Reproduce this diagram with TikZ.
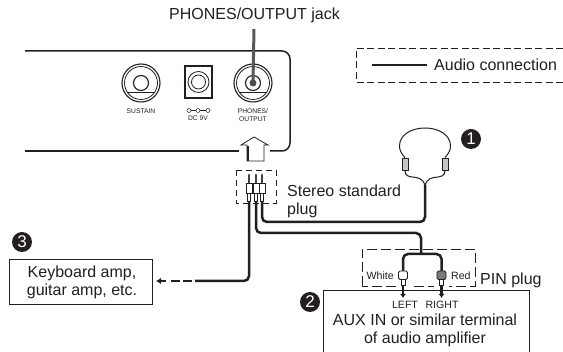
\documentclass[tikz,border=0pt]{standalone}
\usepackage{fontspec}
\setmainfont{Liberation Sans}
\usetikzlibrary{arrows.meta}
\definecolor{ink}{HTML}{231F20}
\tikzset{
 x=1pt,y=-1pt,
 panel/.style={draw=ink,line width=1.5pt},
 jackring/.style={draw=ink,line width=1.1pt},
 thin jack/.style={draw=ink,line width=.8pt},
 label12/.style={inner sep=0pt,font=\fontsize{16}{18}\selectfont,text=ink,align=center},
 tiny5/.style={inner sep=0pt,font=\fontsize{6.7}{7.4}\selectfont,text=ink,align=center},
 small8/.style={inner sep=0pt,font=\fontsize{10.6}{12}\selectfont,text=ink,align=center},
 dashbox/.style={draw=ink,line width=.9pt,dash pattern=on 7pt off 3.5pt},
 cable/.style={draw=ink,line width=2.5pt,rounded corners=5pt},
 thincable/.style={draw=ink,line width=1pt},
 badge/.style={circle,fill=ink,text=white,inner sep=0pt,minimum size=20pt,font=\fontsize{17}{17}\selectfont},
 ampbox/.style={draw=ink,line width=.9pt,fill=white,inner sep=0pt},
}
\begin{document}
\begin{tikzpicture}
\useasboundingbox[fill=white] (0,0) rectangle (563,352);
% panel
\coordinate (pnlTL) at (25,51);
\coordinate (pnlTR) at (290,51);
\coordinate (pnlBR) at (290,151);
\coordinate (pnlBL) at (25,151);
\coordinate (pnlGap) at (239,151);
\coordinate (pnlGapR) at (270,151);
\draw[panel,rounded corners=8pt] (pnlTL) -- (pnlTR) -- (pnlBR) -- (pnlGapR);
\draw[panel] (pnlBL) -- (pnlGap);
% jacks
\node[circle,jackring,minimum size=38pt,inner sep=0pt] (sus) at (141,83) {};
\node[circle,thin jack,minimum size=33pt,inner sep=0pt] at (sus) {};
\node[circle,jackring,minimum size=15pt,inner sep=0pt] at (sus) {};
\draw[thin jack] (127,92) -- (155,92);
\node[draw=ink,line width=1.4pt,minimum width=27pt,minimum height=32pt,inner sep=0pt] (dc) at (198.5,82) {};
\node[circle,thin jack,minimum size=21pt,inner sep=0pt] at (dc) {};
\node[circle,thin jack,minimum size=14pt,inner sep=0pt] at (dc) {};
\node[circle,jackring,minimum size=38pt,inner sep=0pt] (pho) at (253,83) {};
\node[circle,thin jack,minimum size=33pt,inner sep=0pt] at (pho) {};
\node[circle,draw=ink,line width=1.1pt,minimum size=15pt,inner sep=0pt] (phoin) at (pho) {};
\draw[thin jack] (239,92) -- (267,92);
\coordinate (jackTop) at (254,29);
\draw[draw=ink!75,line width=3pt] (jackTop) -- (phoin.center);
\fill[ink!80] (phoin.center) circle (3.5pt);
\node[tiny5] (susT) at (141,111) {SUSTAIN};
\node[tiny5] (dcT) at (198,118.5) {DC 9V};
\node[tiny5] (phT) at (253,115) {PHONES/\\OUTPUT};
\draw[ink,line width=.5pt] (189,110.5) -- (208,110.5);
\foreach \xx in {189,198,208}{\draw[ink,line width=.5pt,fill=white] (\xx,110.5) circle (2pt);}
\node[label12,anchor=west] (jackT) at (169,15) {PHONES/OUTPUT jack};
% house arrow
\draw[ink,line width=.8pt,fill=white] (247,161) -- (247,145) -- (241,145) -- (254,137) -- (268,145) -- (264,145) -- (264,161) -- cycle;
\draw[ink,line width=2pt] (248,146) -- (248,161);
% stereo plug
\draw[dashbox,dash pattern=on 6pt off 4pt] (236,170) rectangle (276,203);
\foreach \xx/\nm in {249/a,256/b,262/c}{
 \draw[ink!85,line width=2.6pt,line cap=round] (\xx,175) -- (\xx,183);
 \draw[ink,line width=.8pt,fill=white] (\xx-3,183) rectangle (\xx+3,193);
 \draw[ink,line width=.8pt,fill=white] (\xx-1.6,193) rectangle (\xx+1.6,201);
 \coordinate (plug\nm) at (\xx,201);
}
\node[label12,anchor=west,align=left] (stT) at (287,201) {Stereo standard\\plug};
% legend
\draw[dashbox] (563,48) -- (356,48) -- (356,82) -- (563,82);
\coordinate (legA) at (372,65);
\coordinate (legB) at (427,65);
\draw[ink,line width=1.5pt] (legA) -- (legB);
\node[label12,anchor=west] (legT) at (434,65) {Audio connection};
% headphones
\node[draw=ink,line width=.7pt,fill=ink!25,minimum width=6pt,minimum height=12pt,inner sep=0pt] (earL) at (405,164) {};
\node[draw=ink,line width=.7pt,fill=ink!25,minimum width=6pt,minimum height=12pt,inner sep=0pt] (earR) at (445,164) {};
\draw[thincable] (earL.north) .. controls (401,153) and (399.5,150) .. (399.5,146) .. controls (399.5,135) and (411,128) .. (425,128) .. controls (439,128) and (450.5,135) .. (450.5,146) .. controls (450.5,150) and (449,153) .. (earR.north);
\coordinate (hpJ) at (425,185);
\draw[thincable] (earL.south) .. controls (405,182) and (421,172) .. (hpJ);
\draw[thincable] (earR.south) .. controls (445,182) and (429,172) .. (hpJ);
\node[badge] (n1) at (471,139) {1};
% amp 3
\node[ampbox,minimum width=143pt,minimum height=45pt] (amp3) at (80.5,281.5) {};
\node[label12] (amp3T) at (82,282.5) {Keyboard amp,\\guitar amp, etc.};
\node[badge] (n3) at (22,242) {3};
% cables
\coordinate (ampEnd) at (195,281);
\coordinate (ampTip) at (156,281);
\coordinate (split) at (421,254);
\draw[cable] (plugc) -- (262,222) -- (425,222) -- (hpJ);
\draw[cable] (plugb) -- (256,233) -- (421,233) -- (split);
\draw[cable] (pluga) -- (249,281) -- (ampEnd);
\draw[draw=ink,line width=2.5pt,dash pattern=on 9pt off 3pt] (192,281) -- (170,281);
\draw[ink,line width=2.5pt,-{Latex[length=5pt,width=6.5pt]}] (166,281) -- (ampTip);
% PIN plug
\draw[dashbox,dash pattern=on 10pt off 4pt] (362,286) -- (362,249) -- (475,249) -- (475,286) -- (362,286);
\coordinate (pinL) at (403,271);
\coordinate (pinR) at (441.5,271);
\draw[cable] (pinL) -- (403,254) -- (441.5,254) -- (pinR);
\fill[white] (396,283) rectangle (410,289);
\fill[white] (434,283) rectangle (449,289);
\draw[ink,line width=.9pt,fill=white,rounded corners=1.5pt] (398.5,271) rectangle (407.5,279.5);
\draw[ink,line width=.9pt,fill=ink!60,rounded corners=1.5pt] (437,271) rectangle (446,279.5);
\draw[ink,line width=.8pt,fill=white] (401,279.5) rectangle (405,285);
\draw[ink,line width=.8pt,fill=white] (439.5,279.5) rectangle (443.5,285);
\node[small8,anchor=west] (whT) at (366.5,276) {White};
\node[small8,anchor=west] (reT) at (451,276) {Red};
\node[label12,anchor=west] (pinT) at (480,280) {PIN plug};
% amp 2
\coordinate (a2TL) at (323,352);
\coordinate (a2TR) at (529,352);
\draw[ink,line width=.9pt] (a2TL) -- (323,290) -- (529,290) -- (a2TR);
\draw[ink,line width=2.2pt,-{Latex[length=4pt,width=6pt]}] (403,286) -- (403,298);
\draw[ink,line width=2.2pt,-{Latex[length=4pt,width=6pt]}] (441.5,286) -- (441.5,298);
\node[small8] (lfT) at (405,305) {LEFT};
\node[small8] (rgT) at (442,305) {RIGHT};
\node[label12] (auxT) at (425,330) {AUX IN or similar terminal\\of audio amplifier};
\node[badge] (n2) at (310,302) {2};
\end{tikzpicture}
\end{document}
